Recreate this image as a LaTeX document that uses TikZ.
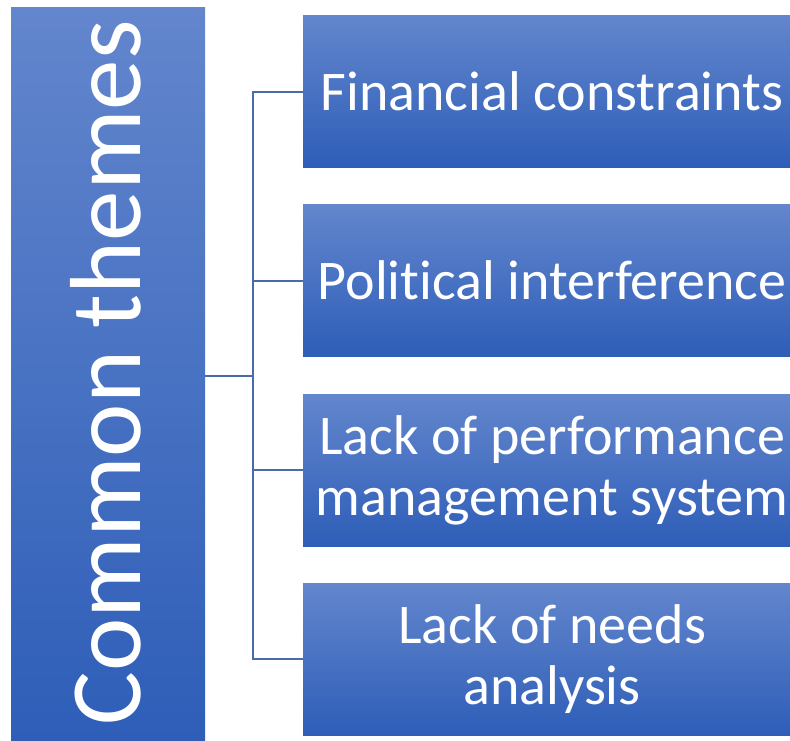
\documentclass[tikz,border=0pt]{standalone}
\usepackage{fontspec}
\setmainfont{Carlito}[Ligatures={NoCommon}]
\definecolor{blueTop}{RGB}{99,134,205}
\definecolor{blueMid}{RGB}{68,114,198}
\definecolor{blueBot}{RGB}{46,94,184}
\definecolor{linkBlue}{RGB}{74,106,170}
\tikzset{
  themebox/.style={shading=axis, top color=blueTop, middle color=blueMid,
    bottom color=blueBot, draw=none},
  themetext/.style={text=white, align=center, inner sep=0pt,
    font=\fontsize{56}{61}\selectfont},
  link/.style={draw=linkBlue, line width=1.4pt}
}
\begin{document}
\begin{tikzpicture}[x=1pt,y=-1pt]
\useasboundingbox (0,0) rectangle (790,740);
% main box on the left
\path[themebox] (11,7) rectangle (205,740);
\node[themetext, rotate=90, font=\fontsize{101}{110}\selectfont] (L) at (106,373) {Common themes};
\coordinate (Lr) at (205,376);
% theme boxes
\path[themebox] (303,15) rectangle (790,167);
\path[themebox] (303,204) rectangle (790,356);
\path[themebox] (303,394) rectangle (790,546);
\path[themebox] (303,583) rectangle (790,735);
\coordinate (b1) at (303,92);
\coordinate (b2) at (303,281);
\coordinate (b3) at (303,470);
\coordinate (b4) at (303,659);
\node[themetext] (t1) at (552,91) {Financial constraints};
\node[themetext] (t2) at (552,280) {Political interference};
\node[themetext] (t3) at (552,470) {Lack of performance\\management system};
\node[themetext] (t4) at (552,659) {Lack of needs\\analysis};
% connectors
\coordinate (hub) at (253,376);
\draw[link] (Lr) -- (hub);
\draw[link] (hub) |- (b1);
\draw[link] (hub) |- (b2);
\draw[link] (hub) |- (b3);
\draw[link] (hub) |- (b4);
\end{tikzpicture}
\end{document}
